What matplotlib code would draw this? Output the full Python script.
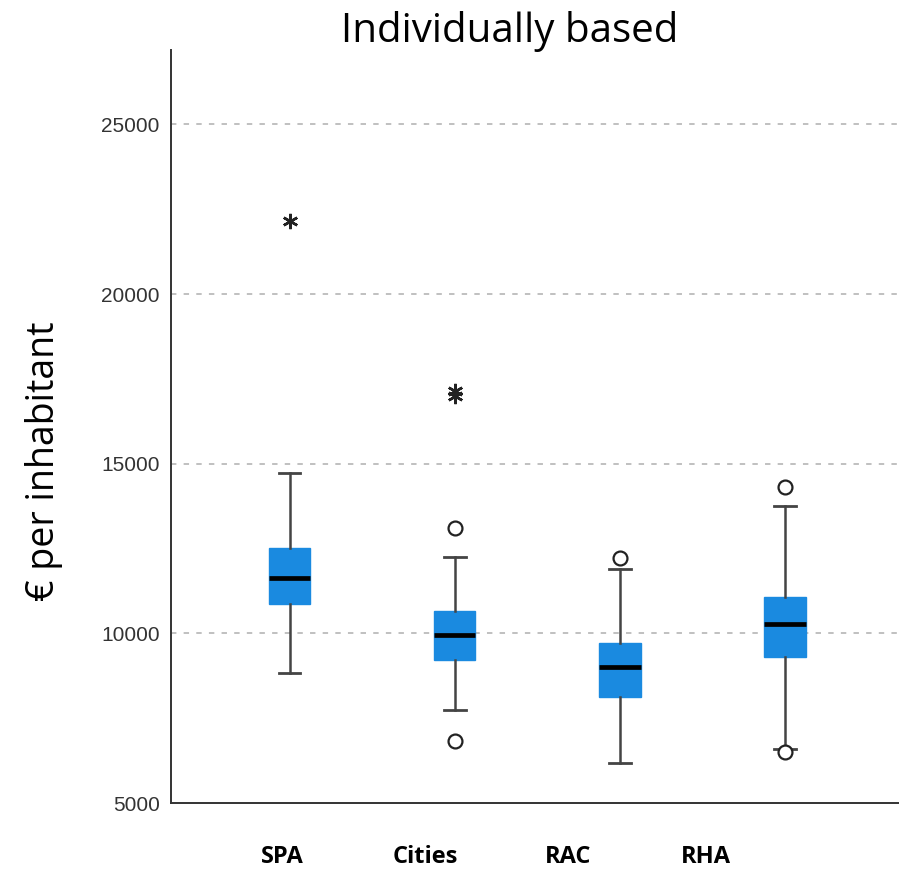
import matplotlib
matplotlib.use("Agg")
import matplotlib.pyplot as plt

# ── Data ─────────────────────────────────────────────────────────────────────
groups     = ["SPA", "Cities", "RAC", "RHA"]
q1         = [10870, 9220, 8130, 9310]
medians    = [11640, 9960, 9010, 10280]
q3         = [12520, 10660, 9720, 11080]
whisk_lo   = [8840, 7740, 6180, 6590]
whisk_hi   = [14740, 12260, 11900, 13760]
# mild outliers (circles) and extreme outliers (stars), per group
mild_out    = [[], [13110, 6830], [12230], [14320, 6500]]
extreme_out = [[22140], [17150, 17010], [], []]

y_ticks = [5000, 10000, 15000, 20000, 25000]

BOX_COLOR = "#1a8ae0"
LINE_COLOR = "#333333"

plt.rcParams["font.family"] = ["Liberation Sans", "DejaVu Sans"]

fig = plt.figure(figsize=(8.99, 8.73), dpi=100)
ax = fig.add_axes([0.190, 0.080, 0.810, 0.863])

positions = list(range(1, len(groups) + 1))
stats = []
for i, g in enumerate(groups):
    stats.append(dict(label=g, med=medians[i], q1=q1[i], q3=q3[i],
                      whislo=whisk_lo[i], whishi=whisk_hi[i], fliers=[]))

ax.bxp(stats, positions=positions, widths=0.25, capwidths=0.13,
       patch_artist=True, showfliers=False,
       boxprops=dict(facecolor=BOX_COLOR, edgecolor=BOX_COLOR, linewidth=1),
       medianprops=dict(color="black", linewidth=3.4, solid_capstyle="butt"),
       whiskerprops=dict(color="#444444", linewidth=1.8),
       capprops=dict(color="#444444", linewidth=2.0))

for p, vals in zip(positions, mild_out):
    if vals:
        ax.plot([p] * len(vals), vals, linestyle="none", marker="o",
                markersize=10, markerfacecolor="white",
                markeredgecolor="#222222", markeredgewidth=1.6, zorder=4)
for p, vals in zip(positions, extreme_out):
    if vals:
        ax.plot([p] * len(vals), vals, linestyle="none", marker=(6, 2, 0),
                markersize=11, markeredgecolor="#222222",
                markeredgewidth=1.8, zorder=4)

# gridlines
for yv in y_ticks[1:]:
    ax.axhline(yv, color="#bbbbbb", linestyle=(0, (3, 4)), linewidth=1.3,
               zorder=0)

ax.set_xlim(0.28, 4.69)
ax.set_ylim(5000, 27200)
ax.set_yticks(y_ticks)
ax.set_yticklabels([str(v) for v in y_ticks], fontsize=15, color="#333333")
ax.tick_params(axis="y", length=0, pad=8)

# category labels drift left of their boxes in the original
label_pos = [0.958, 1.824, 2.685, 3.521]
ax.set_xticks(label_pos)
ax.set_xticklabels(groups, fontsize=17, fontweight="bold", color="black",
                   family=["Open Sans", "DejaVu Sans"])
ax.tick_params(axis="x", length=0, pad=30)

for side in ("top", "right"):
    ax.spines[side].set_visible(False)
for side in ("left", "bottom"):
    ax.spines[side].set_color(LINE_COLOR)
    ax.spines[side].set_linewidth(1.4)

fig.text(510 / 899, 1 - 42 / 873, "Individually based", fontsize=29,
         ha="center", va="baseline", family=["Open Sans", "DejaVu Sans"])
fig.text(44 / 899, 1 - 461 / 873, "€ per inhabitant", fontsize=27,
         rotation=90, ha="center", va="center",
         family=["Open Sans", "DejaVu Sans"])

fig.savefig("out.png", dpi=100)
